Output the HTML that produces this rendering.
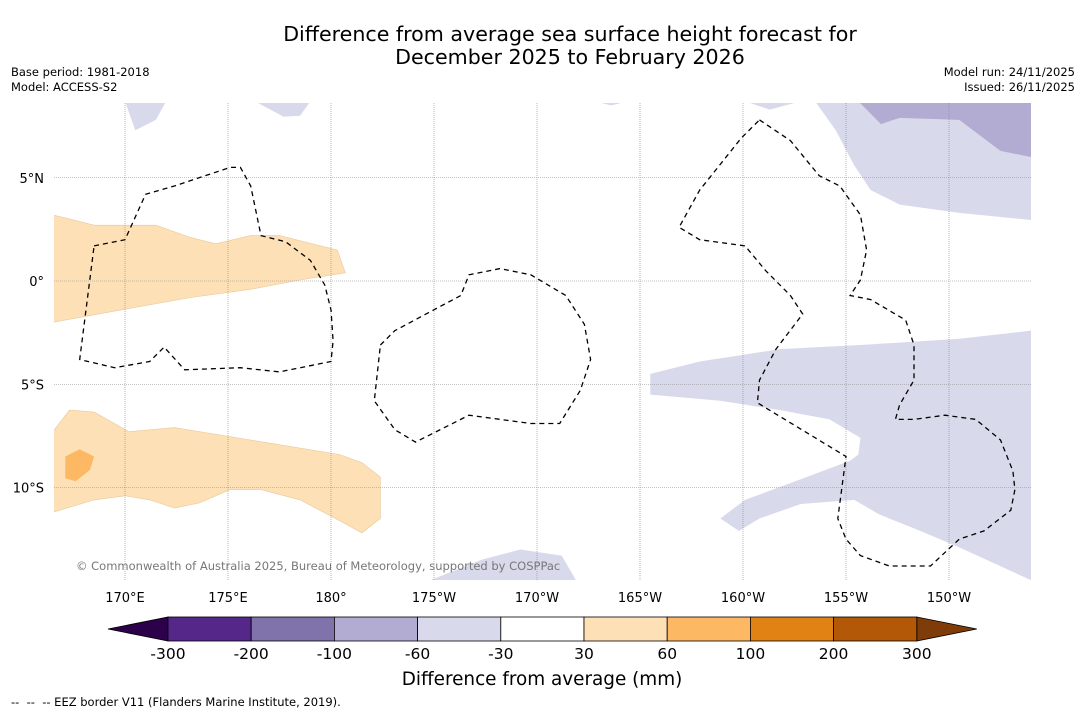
<!DOCTYPE html>
<html><head><meta charset="utf-8"><style>
body{margin:0;background:#fff;font-family:"DejaVu Sans","Liberation Sans",sans-serif;}
svg text{font-family:"DejaVu Sans","Liberation Sans",sans-serif;}
</style></head><body>
<svg id="chart" width="1085" height="713" xmlns="http://www.w3.org/2000/svg">
<rect width="1085" height="713" fill="#fff"/>
<text x="570" y="41" font-size="20.6" text-anchor="middle">Difference from average sea surface height forecast for</text>
<text x="570" y="64" font-size="20.6" text-anchor="middle">December 2025 to February 2026</text>
<text x="11" y="76" font-size="11.5">Base period: 1981-2018</text>
<text x="11" y="91" font-size="11.5">Model: ACCESS-S2</text>
<text x="1075" y="76" font-size="11.5" text-anchor="end">Model run: 24/11/2025</text>
<text x="1075" y="91" font-size="11.5" text-anchor="end">Issued: 26/11/2025</text>
<defs><clipPath id="mapclip"><rect x="54" y="103" width="977" height="477"/></clipPath></defs>
<g id="map" clip-path="url(#mapclip)"></g>
<g id="axes"></g>
<g id="cbar"></g>
<text x="542" y="685" font-size="18.4" text-anchor="middle">Difference from average (mm)</text>
<text x="11" y="706" font-size="11.5" xml:space="preserve">--  --  -- EEZ border V11 (Flanders Marine Institute, 2019).</text>
</svg>
<script>
const lonTicks=[170,175,180,185,190,195,200,205,210];
const lonLabels=["170°E","175°E","180°","175°W","170°W","165°W","160°W","155°W","150°W"];
const latTicks=[5,0,-5,-10];
const latLabels=["5°N","0°","5°S","10°S"];
const cbBounds=["-300","-200","-100","-60","-30","30","60","100","200","300"];
const cbColors=["#542788","#8073ac","#b2abd2","#d8daeb","#ffffff","#fee0b6","#fdb863","#e08214","#b35806"];
const cbUnder="#2d004b", cbOver="#7f3b08";
const orangeNorth=[[166.5,3.2],[168.5,2.7],[171.5,2.7],[173.2,2.1],[174.4,1.8],[176.1,2.2],[177.5,2.2],[180.3,1.5],[180.7,0.4],[178.5,0.05],[176.1,-0.4],[173.2,-0.8],[169.8,-1.4],[166.5,-2.0]];
const orangeSouth=[[166.5,-7.3],[167.3,-6.25],[168.5,-6.35],[170.2,-7.3],[172.4,-7.1],[176.1,-7.7],[180.4,-8.4],[181.5,-8.8],[182.4,-9.5],[182.4,-11.5],[181.5,-12.2],[180.4,-11.6],[178.5,-10.6],[176.6,-10.1],[175.1,-10.1],[173.6,-10.75],[172.4,-11.0],[171.2,-10.6],[170.0,-10.4],[168.5,-10.6],[166.5,-11.2]];
const orangeMid=[[167.1,-8.5],[167.8,-8.15],[168.5,-8.5],[168.3,-9.15],[167.6,-9.7],[167.1,-9.55]];
const purpleEast=[[195.5,-4.5],[197.9,-3.9],[201.8,-3.3],[205.7,-3.1],[210.5,-2.8],[214,-2.4],[214,-14.5],[210.5,-12.9],[208.6,-12.1],[206.6,-11.3],[205.4,-10.6],[202.8,-10.8],[200.8,-11.5],[199.8,-12.1],[198.9,-11.5],[200.1,-10.6],[202.8,-9.6],[205.2,-8.7],[205.6,-8.4],[205.7,-7.6],[204.2,-6.7],[201.8,-6.25],[198.9,-5.8],[195.5,-5.5]];
const purpleNE=[[203.5,8.7],[214,8.7],[214,2.95],[210.5,3.3],[207.6,3.7],[206.2,4.4],[205.4,5.6],[204.5,7.3]];
const purpleNEdark=[[205.6,8.7],[214,8.7],[214,6.0],[212.5,6.3],[210.5,7.8],[207.6,7.9],[206.7,7.6]];
const purpleSmall=[
 [[170,8.7],[172,8.7],[171.5,7.8],[170.5,7.3]],
 [[176.3,8.7],[179,8.7],[178.5,8.0],[177.7,7.95]],
 [[192.8,8.7],[194.4,8.7],[193.6,8.5]],
 [[200.1,8.7],[202.8,8.7],[201.3,8.3]],
 [[184.8,-14.5],[187.3,-13.5],[189.2,-13.0],[191.2,-13.3],[191.9,-14.5]]];
const eezLeft=[[168.5,1.7],[170,2.0],[171,4.2],[172.4,4.6],[175.1,5.5],[175.6,5.5],[176.1,4.6],[176.6,2.2],[177.8,1.9],[179,1.0],[179.7,-0.2],[180,-1.4],[180.1,-2.9],[180,-3.9],[177.5,-4.4],[175.6,-4.2],[172.9,-4.3],[171.9,-3.2],[171.2,-3.9],[169.5,-4.2],[167.8,-3.8],[168.5,1.7]];
const eezMid=[[182.4,-3.1],[183.1,-2.4],[186.3,-0.7],[186.7,0.3],[188.2,0.6],[189.7,0.3],[191.4,-0.7],[192.3,-2.1],[192.6,-3.8],[192.1,-5.3],[191.1,-6.9],[189.7,-6.9],[186.7,-6.5],[184.1,-7.8],[183.1,-7.2],[182.1,-5.8],[182.4,-3.1]];
const eezRight=[[200.8,7.8],[202.3,6.8],[203.7,5.1],[204.7,4.6],[205.7,3.2],[206.0,1.5],[205.7,0.05],[205.2,-0.7],[206.2,-0.9],[207.9,-1.9],[208.3,-3.1],[208.3,-4.8],[207.6,-6.0],[207.4,-6.7],[208.3,-6.7],[209.8,-6.5],[211.3,-6.7],[212.5,-7.7],[213.1,-9.2],[213.2,-10.1],[213.0,-11.1],[211.7,-12.1],[210.5,-12.5],[209.1,-13.8],[207.1,-13.8],[205.7,-13.3],[205.0,-12.5],[204.6,-11.5],[205.0,-8.5],[200.7,-5.9],[200.8,-4.8],[201.6,-3.3],[202.9,-1.6],[202.3,-0.7],[201.1,0.5],[200.1,1.7],[197.9,2.0],[196.9,2.6],[197.9,4.4],[199.9,6.9],[200.8,7.8]];

const NS="http://www.w3.org/2000/svg";
const X=lon=>125+(lon-170)*20.6;
const Y=lat=>281-lat*20.65;
function mk(tag,attrs,parent){const e=document.createElementNS(NS,tag);for(const k in attrs)e.setAttribute(k,attrs[k]);parent.appendChild(e);return e;}
const pts=a=>a.map(p=>X(p[0]).toFixed(1)+","+Y(p[1]).toFixed(1)).join(" ");
const map=document.getElementById("map"),axes=document.getElementById("axes"),cbar=document.getElementById("cbar");
function poly(a,fill,name){const e=mk("polygon",{points:pts(a),fill:fill,stroke:fill==="#fee0b6"?"#e8c89a":"none","stroke-width":0.6},map);

}
poly(orangeNorth,"#fee0b6","anomaly-30-60-north");
poly(orangeSouth,"#fee0b6","anomaly-30-60-south");
poly(orangeMid,"#fdb863","anomaly-60-100");
poly(purpleEast,"#d8daeb","anomaly-neg60-neg30-east");
poly(purpleNE,"#d8daeb","anomaly-neg60-neg30-northeast");
poly(purpleNEdark,"#b2abd2","anomaly-neg100-neg60");
purpleSmall.forEach((a,i)=>poly(a,"#d8daeb","anomaly-small-"+i));
lonTicks.forEach((l,i)=>{const g=mk("line",{x1:X(l),x2:X(l),y1:103,y2:580,stroke:"#888","stroke-width":0.6,"stroke-dasharray":"1,1"},map);


const t=mk("text",{x:X(l),y:602,"font-size":13,"text-anchor":"middle"},axes);t.textContent=lonLabels[i];

});
latTicks.forEach((l,i)=>{const g=mk("line",{x1:54,x2:1031,y1:Y(l),y2:Y(l),stroke:"#888","stroke-width":0.6,"stroke-dasharray":"1,1"},map);


const t=mk("text",{x:44,y:Y(l)+5,"font-size":13,"text-anchor":"end"},axes);t.textContent=latLabels[i];

});
[eezLeft,eezMid,eezRight].forEach((a,i)=>{const e=mk("polyline",{points:pts(a),fill:"none",stroke:"#000","stroke-width":1.3,"stroke-dasharray":"5,4"},map);

});
const c=mk("text",{x:76,y:570,"font-size":11.5,fill:"#777"},map);c.textContent="© Commonwealth of Australia 2025, Bureau of Meteorology, supported by COSPPac";


const cx0=168,cw=83.2,cy=617,ch=24;
const u=mk("polygon",{points:`108,${cy+ch/2} ${cx0},${cy} ${cx0},${cy+ch}`,fill:cbUnder,stroke:"#000","stroke-width":0.8},cbar);


const xe=cx0+cw*cbColors.length;
const o=mk("polygon",{points:`${xe},${cy} ${xe+60},${cy+ch/2} ${xe},${cy+ch}`,fill:cbOver,stroke:"#000","stroke-width":0.8},cbar);


cbColors.forEach((col,i)=>{const r=mk("rect",{x:cx0+cw*i,y:cy,width:cw,height:ch,fill:col,stroke:"#000","stroke-width":0.8},cbar);

});
cbBounds.forEach((b,i)=>{const t=mk("text",{x:cx0+cw*i,y:659,"font-size":15.5,"text-anchor":"middle"},cbar);t.textContent=b;

});
</script>
</body></html>
